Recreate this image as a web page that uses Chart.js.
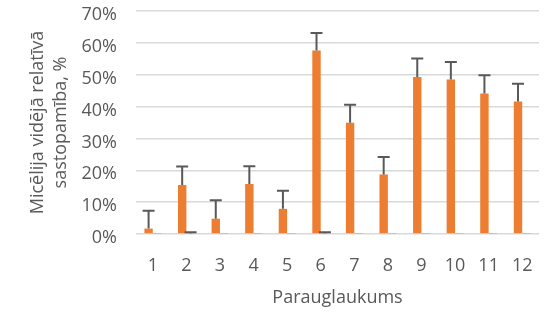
<!DOCTYPE html>
<html lang="lv">
<head>
  <meta charset="UTF-8" />
  <title>Micēlija vidējā relatīvā sastopamība</title>
  <script src="https://cdn.jsdelivr.net/npm/chart.js"></script>
  <style>
    html, body { margin: 0; padding: 0; background: #fff; }
    #wrap { width: 550px; height: 327px; }
  </style>
</head>
<body>
  <div id="wrap"><canvas id="myChart" width="550" height="327"></canvas></div>

  <script>
    // parauglaukumi
    const labels = ['1', '2', '3', '4', '5', '6', '7', '8', '9', '10', '11', '12'];
    // vidējā sastopamība, %
    const micelijs = [1.7, 15.4, 4.8, 15.7, 7.9, 57.6, 34.9, 18.7, 49.3, 48.5, 44.1, 41.6];
    const micelijsErr = [5.6, 5.8, 5.8, 5.6, 5.7, 5.5, 5.7, 5.5, 5.8, 5.5, 5.7, 5.6];
    const otra = [0.1, 0.15, 0.1, 0.1, 0.1, 0.15, 0.1, 0.1, 0.1, 0.1, 0.1, 0.1];
    const otraErr = [0, 0.4, 0, 0, 0, 0.4, 0, 0, 0, 0, 0, 0];
    const yTicks = [0, 10, 20, 30, 40, 50, 60, 70];

    const textColor = '#595959';
    const fontFamily = '"Open Sans", sans-serif';

    // kļūdu joslas (tikai uz augšu)
    const errorBars = {
      id: 'errorBars',
      afterDatasetsDraw(chart) {
        const ctx = chart.ctx;
        const y = chart.scales.y;
        chart.data.datasets.forEach((ds, di) => {
          if (!ds.errors) return;
          const meta = chart.getDatasetMeta(di);
          meta.data.forEach((bar, i) => {
            const e = ds.errors[i];
            if (!e) return;
            const top = y.getPixelForValue(ds.data[i] + e);
            const base = y.getPixelForValue(ds.data[i]);
            ctx.save();
            ctx.strokeStyle = '#595959';
            ctx.lineWidth = 2;
            ctx.beginPath();
            ctx.moveTo(bar.x, base);
            ctx.lineTo(bar.x, top);
            ctx.moveTo(bar.x - 6, top);
            ctx.lineTo(bar.x + 6, top);
            ctx.stroke();
            ctx.restore();
          });
        });
      }
    };

    new Chart(document.getElementById('myChart'), {
      type: 'bar',
      data: {
        labels: labels,
        datasets: [{
          data: micelijs,
          errors: micelijsErr,
          backgroundColor: '#ED7D31',
          categoryPercentage: 0.5,
          barPercentage: 1
        }, {
          data: otra,
          errors: otraErr,
          backgroundColor: '#A5A5A5',
          categoryPercentage: 0.5,
          barPercentage: 1
        }]
      },
      plugins: [errorBars],
      options: {
        responsive: false,
        animation: false,
        layout: { padding: { left: 0, right: 11, top: 11, bottom: 0 } },
        plugins: {
          legend: { display: false },
          tooltip: { enabled: false }
        },
        scales: {
          x: {
            grid: { display: false, drawTicks: false },
            border: { display: false },
            ticks: {
              color: textColor,
              padding: 21,
              font: { family: fontFamily, size: 18 }
            },
            title: {
              display: true,
              text: 'Parauglaukums',
              color: textColor,
              padding: { top: 0, bottom: 18 },
              font: { family: fontFamily, size: 18, lineHeight: 1.25 }
            },
            afterFit(scale) {
              scale.height = 93;
              scale.paddingLeft = 0;
              scale.paddingRight = 0;
            }
          },
          y: {
            min: 0,
            max: 70,
            afterBuildTicks(scale) {
              scale.ticks = yTicks.map(v => ({ value: v }));
            },
            grid: { color: '#D9D9D9', lineWidth: 1.5, drawTicks: false },
            border: { display: false },
            ticks: {
              color: textColor,
              padding: 19,
              labelOffset: 4,
              font: { family: fontFamily, size: 18 },
              callback: v => v + '%'
            },
            title: {
              display: true,
              text: ['Micēlija vidējā relatīvā', 'sastopamība, %'],
              color: textColor,
              padding: { top: 27, bottom: 0 },
              font: { family: fontFamily, size: 18, lineHeight: 1.25 }
            },
            afterFit(scale) {
              scale.width = 136;
              scale.paddingTop = 0;
              scale.paddingBottom = 0;
            }
          }
        }
      }
    });
  </script>
</body>
</html>
